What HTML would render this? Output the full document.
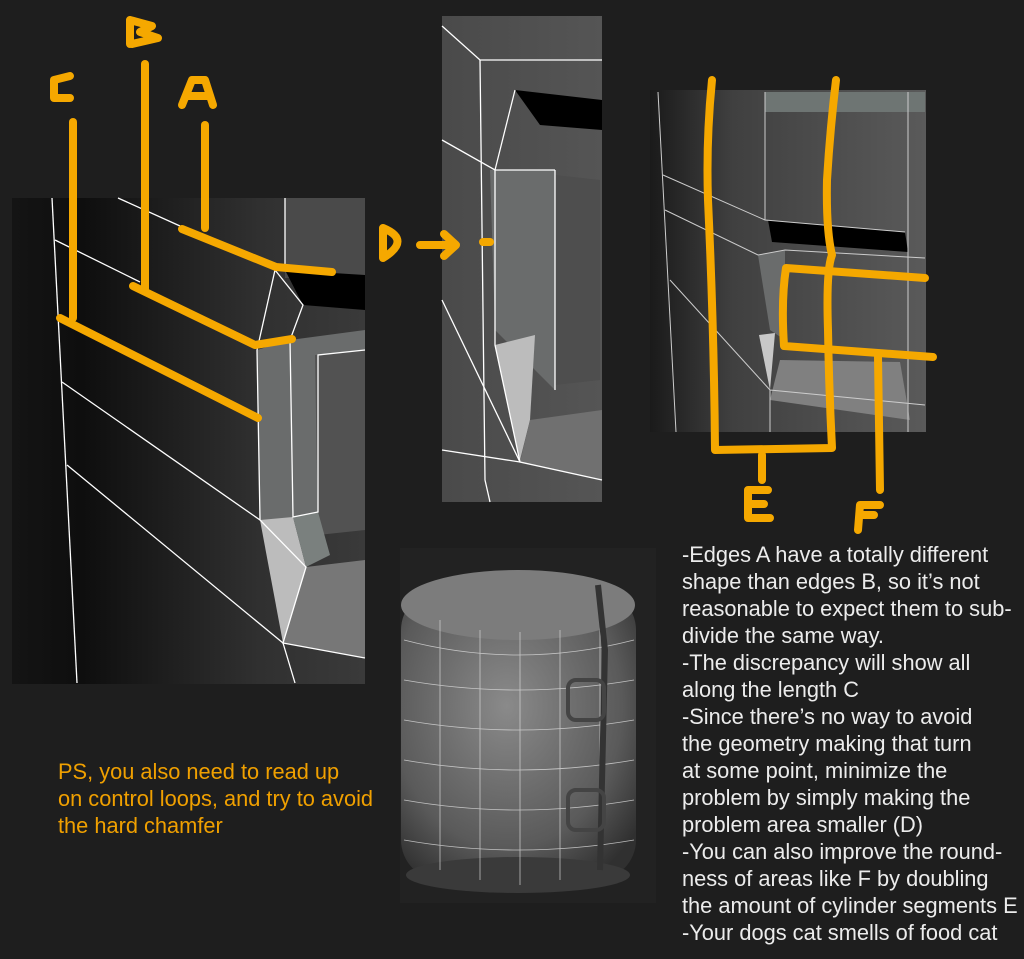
<!DOCTYPE html>
<html><head><meta charset="utf-8"><style>
html,body{margin:0;padding:0;background:#1e1e1e;width:1024px;height:959px;overflow:hidden}
svg{position:absolute;left:0;top:0}
.t{position:absolute;font-family:"Liberation Sans",sans-serif;font-size:21.8px;line-height:27px;white-space:pre}
</style></head><body>
<svg width="1024" height="959" viewBox="0 0 1024 959">
<defs>
<linearGradient id="gl" x1="0" x2="1" y1="0" y2="0"><stop offset="0" stop-color="#141414"/><stop offset="0.2" stop-color="#0e0e0e"/><stop offset="0.7" stop-color="#303030"/><stop offset="1" stop-color="#3a3a3a"/></linearGradient>
<linearGradient id="gr" x1="0" x2="1"><stop offset="0" stop-color="#1a1a1a"/><stop offset="0.3" stop-color="#404040"/><stop offset="1" stop-color="#5a5a5a"/></linearGradient>
<linearGradient id="gm" x1="0" x2="1"><stop offset="0" stop-color="#4a4a4a"/><stop offset="1" stop-color="#555"/></linearGradient>
<radialGradient id="gc" cx="0.45" cy="0.4" r="0.7"><stop offset="0" stop-color="#8a8a8a"/><stop offset="0.7" stop-color="#5a5a5a"/><stop offset="1" stop-color="#303030"/></radialGradient>
</defs>
<rect x="12" y="198" width="353" height="486" fill="url(#gl)"/>
<rect x="285" y="198" width="80" height="80" fill="#4a4a4a"/>
<polygon points="285,270 365,275 365,310 303,305" fill="#000"/>
<polygon points="257,350 290,340 365,330 365,520 260,520" fill="#6a6c6c"/>
<polygon points="315,355 365,350 365,530 318,535" fill="#525252"/>
<polygon points="260,520 293,517 306,567 283,643" fill="#bcbcbc"/>
<polygon points="293,517 318,512 330,555 306,567" fill="#7a807e"/>
<polygon points="306,567 365,560 365,658 283,643" fill="#777"/>
<g stroke="#fff" stroke-width="1.3" fill="none">
<polyline points="52,198 77,683"/>
<polyline points="118,198 180,226"/><polyline points="55,240 140,282"/>
<polyline points="62,382 260,520"/><polyline points="67,465 283,643 295,683"/>
<polyline points="257,350 260,520 306,567 283,643 365,658"/>
<polyline points="290,340 293,517 318,512 318,355 365,350"/>
<polyline points="275,270 257,350"/><polyline points="275,270 303,305 290,340"/>
<line x1="285" y1="198" x2="285" y2="270"/>
</g>
<rect x="442" y="16" width="160" height="486" fill="url(#gm)"/>
<polygon points="515,90 602,100 602,130 540,125" fill="#000"/>
<polygon points="490,170 555,170 555,390 495,330" fill="#6a6c6c"/>
<polygon points="555,175 600,180 600,380 555,385" fill="#4e4e4e"/>
<polygon points="495,345 535,335 530,420 520,460" fill="#bcbcbc"/>
<polygon points="530,420 602,410 602,480 520,462" fill="#707070"/>
<g stroke="#fff" stroke-width="1.3" fill="none">
<polyline points="442,26 480,60 602,60"/><polyline points="480,60 485,480 490,502"/>
<polyline points="442,140 495,170 555,170"/><polyline points="442,300 520,462 602,480"/>
<polyline points="495,170 495,345 520,462"/><polyline points="515,90 495,170"/>
<polyline points="555,170 555,390"/><polyline points="442,450 520,462"/>
</g>
<rect x="650" y="90" width="276" height="342" fill="url(#gr)"/>
<rect x="765" y="92" width="160" height="20" fill="#6e7573"/>
<polygon points="768,220 905,232 908,252 772,242" fill="#000"/>
<polygon points="758,255 785,250 785,340 770,330" fill="#6a6c6c"/>
<polygon points="759,335 775,333 770,390" fill="#c8c8c8"/>
<polygon points="780,360 900,362 910,420 770,400" fill="#808080"/>
<g stroke="#ccc" stroke-width="1" fill="none">
<polyline points="658,92 676,432"/><polyline points="663,175 765,220 905,232"/>
<polyline points="665,210 758,255 785,250 925,258"/><polyline points="670,280 770,390 925,405"/>
<polyline points="765,92 765,220"/><polyline points="908,92 908,432"/>
<polyline points="770,390 770,432"/>
</g>
<rect x="400" y="548" width="256" height="355" fill="#222"/>
<rect x="401" y="590" width="235" height="290" rx="40" fill="url(#gc)"/>
<ellipse cx="518" cy="605" rx="117" ry="35" fill="#7c7c7c"/>
<ellipse cx="518" cy="875" rx="112" ry="18" fill="#3a3a3a"/>
<g stroke="#ddd" stroke-width="0.8" fill="none" opacity="0.8">
<path d="M404,640 Q518,670 634,640"/><path d="M404,680 Q518,700 634,680"/><path d="M404,720 Q518,740 634,720"/><path d="M404,760 Q518,780 634,760"/><path d="M404,800 Q518,820 634,800"/><path d="M404,840 Q518,860 634,840"/>
<line x1="440" y1="620" x2="440" y2="870"/><line x1="480" y1="630" x2="480" y2="880"/><line x1="520" y1="632" x2="520" y2="885"/><line x1="560" y1="630" x2="560" y2="880"/><line x1="600" y1="620" x2="600" y2="870"/>
</g>
<path d="M598,585 L605,650 L600,870" stroke="#333" stroke-width="6" fill="none"/>
<rect x="568" y="680" width="36" height="40" rx="8" fill="none" stroke="#444" stroke-width="4"/>
<rect x="568" y="790" width="36" height="40" rx="8" fill="none" stroke="#444" stroke-width="4"/>
<g stroke="#f5a800" stroke-width="8" fill="none" stroke-linecap="round" stroke-linejoin="round">
<line x1="73" y1="122" x2="73" y2="318"/><line x1="145" y1="64" x2="145" y2="290"/><line x1="205" y1="125" x2="205" y2="228"/>
<polyline points="60,318 258,418"/><polyline points="133,286 255,345 292,339"/><polyline points="182,229 276,267 332,272"/>
<path d="M70,76 L54,80 L54,98 L70,98"/>
<path d="M130,20 L130,44 M130,20 L152,26 L140,32 L158,38 L132,44"/>
<path d="M182,105 L192,80 L205,80 L213,105 M188,96 L208,96"/>
<path d="M383,228 L383,258 M383,228 Q412,240 383,258 M420,245 L455,245 M444,234 L456,245 L444,256"/>
<line x1="483" y1="242" x2="490" y2="242"/>
<path d="M712,80 Q706,140 708,200 Q714,330 715,450 L832,448 Q829,390 828,330 Q826,270 832,255 Q826,230 827,180 Q830,130 836,80"/>
<line x1="762" y1="455" x2="762" y2="480"/>
<path d="M925,278 L786,268 Q781,300 784,346 L933,357"/>
<line x1="878" y1="357" x2="880" y2="490"/>
<path d="M768,490 L748,490 L748,518 L770,518 M748,504 L764,504"/>
<path d="M880,505 L860,505 L858,530 M860,515 L874,515"/>
</g>
</svg>
<div class="t" style="left:58px;top:758px;color:#f0a000">PS, you also need to read up
on control loops, and try to avoid
the hard chamfer</div>
<div class="t" style="left:682px;top:541px;color:#ececec">-Edges A have a totally different
shape than edges B, so it’s not
reasonable to expect them to sub-
divide the same way.
-The discrepancy will show all
along the length C
-Since there’s no way to avoid
the geometry making that turn
at some point, minimize the
problem by simply making the
problem area smaller (D)
-You can also improve the round-
ness of areas like F by doubling
the amount of cylinder segments E
-Your dogs cat smells of food cat</div>
</body></html>
